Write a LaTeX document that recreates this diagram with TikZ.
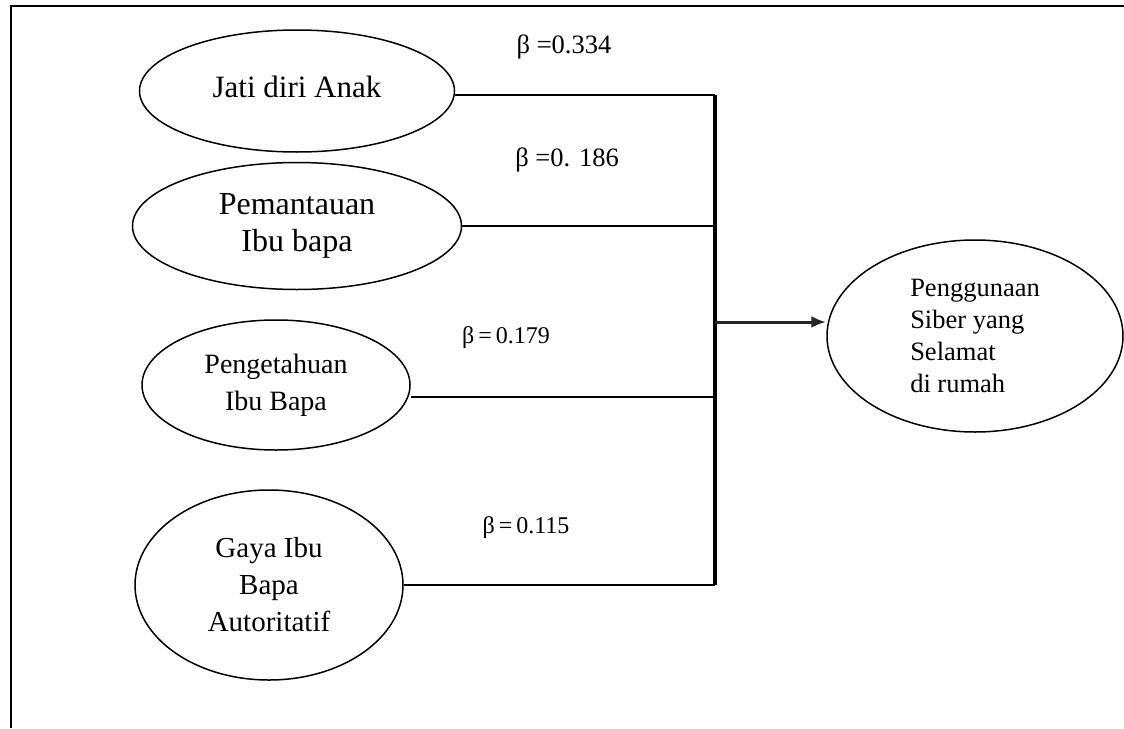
\documentclass[tikz,border=0pt]{standalone}
\usepackage{fontspec}
\setmainfont{Liberation Serif}
\usetikzlibrary{shapes.geometric, arrows.meta}

\tikzset{
	factor/.style={ellipse, draw, line width=1.5pt, fill=white, inner sep=0pt, align=center, font=\fontsize{#1}{37}\selectfont},
	factor/.default=29,
	outcome/.style={ellipse, draw, line width=1.5pt, fill=white, inner sep=0pt, align=left, font=\fontsize{26.5}{32}\selectfont},
	coef/.style={inner sep=0pt, font=\fontsize{#1}{28}\selectfont},
	coef/.default=24,
	link/.style={line width=1.5pt},
}

\begin{document}
\begin{tikzpicture}[x=1pt, y=-1pt]
	\def\X{715}
	\def\Top{95}
	\def\Bot{585}

	\useasboundingbox (0,0) rectangle (1124,728);
	\fill[white] (0,0) rectangle (1124,728);
	\draw[line width=2pt]	(11,728) -- (11,6) -- (1124,6);

	\node[factor=31, minimum width=315, minimum height=122]	(anak) at (297,91) {\raisebox{9pt}{Jati diri Anak}};
	\node[factor=32, minimum width=329, minimum height=127]	(pantau) at (297,226) {Pemantauan\\Ibu bapa};
	\node[factor=28, minimum width=268, minimum height=130]	(tahu) at (276,385) {Pengetahuan\\Ibu Bapa};
	\node[factor, minimum width=268, minimum height=190]	(gaya) at (269,585) {Gaya Ibu\\Bapa\\Autoritatif};
	\node[outcome, minimum width=296, minimum height=192]	(siber) at (975,336) {Penggunaan\\Siber yang\\Selamat\\di rumah};

	\coordinate (b1) at (\X,\Top);
	\coordinate (b2) at (\X,226);
	\coordinate (b3) at (\X,397);
	\coordinate (b4) at (\X,\Bot);
	\coordinate (bo) at (\X,322);

	\draw[link]	(anak.east |- b1) -- (b1);
	\draw[link]	(pantau.east) -- (b2);
	\draw[link]	(tahu.east |- b3) -- (b3);
	\draw[link]	(gaya.east) -- (b4);
	\draw[line width=4pt]	(b1) -- (b4);
	\draw[-{Latex[length=15pt,width=12pt]}, line width=3pt, black!85]	(bo) -- (bo -| siber.west);

	\node[coef=26.5]	(k1) at (564,47) {β =0.334};
	\node[coef=26.5]	(k2) at (567,160) {β =0. 186};
	\node[coef]	(k3) at (506,338) {β\,=\,0.179};
	\node[coef]	(k4) at (526,528) {β\,=\,0.115};
\end{tikzpicture}
\end{document}
